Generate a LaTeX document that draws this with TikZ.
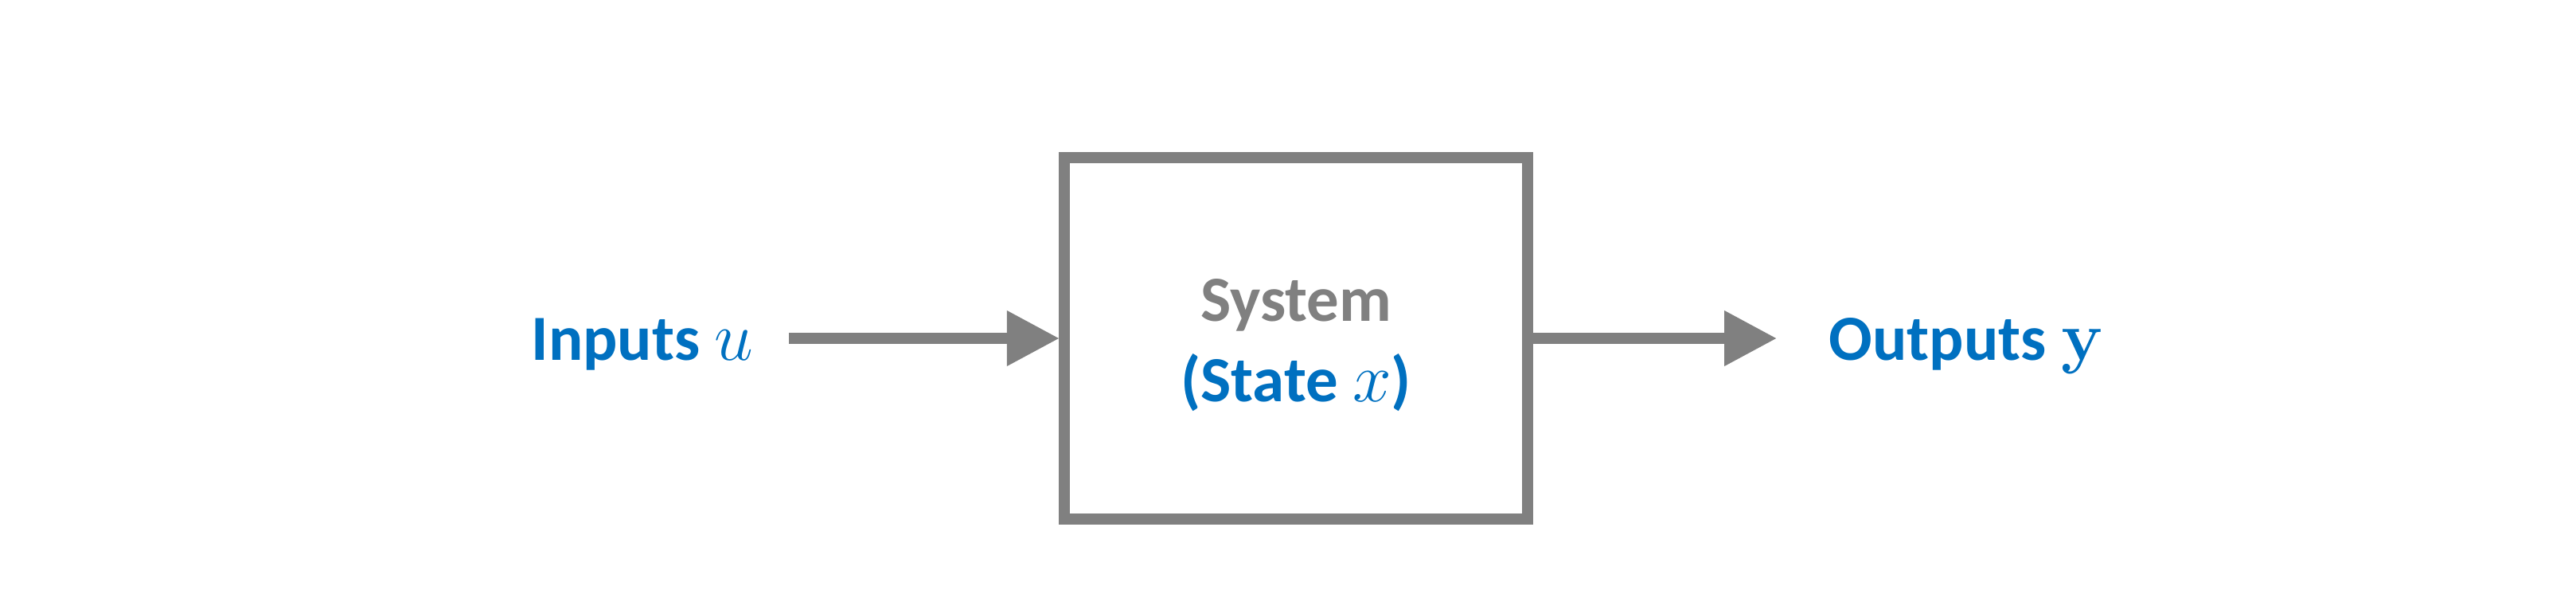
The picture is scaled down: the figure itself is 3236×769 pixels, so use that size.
\documentclass[tikz,border=0pt]{standalone}
\usepackage[no-math]{fontspec}
\setmainfont{Carlito}
\usetikzlibrary{arrows.meta,positioning}
\definecolor{grau}{RGB}{128,128,128}
\definecolor{blau}{RGB}{0,112,192}
\tikzset{
  every picture/.style={line width=3.9pt,
    >={Triangle[length=0.65cm,width=0.7cm,line width=0pt]}},
  every node/.style={font=\fontsize{23pt}{28.5pt}\selectfont\bfseries},
  % Block und Signale
  block/.style={draw=grau, minimum width=5.82cm, minimum height=4.54cm, inner sep=0pt},
  sig/.style={grau, ->},
  % Beschriftung, auf der Grundlinie gesetzt
  lbl/.style={blau, anchor=base},
}
\begin{document}
\begin{tikzpicture}[x=0.01cm, y=-0.01cm]
  \useasboundingbox (0,0) rectangle (3236,769);
  % System mit Zustand
  \node[block] (sys) at (1628,425) {};
  \node[align=center] (state) at ([yshift=-0.085cm]sys.center)
    {{\color{grau}System}\\{\color{blau}(State $x$)}};
  % Ein- und Ausgang
  \coordinate[left=3.39cm of sys.west] (in);
  \coordinate[right=3.05cm of sys.east] (out);
  \draw[sig] (in) -- (sys.west);
  \draw[sig] (sys.east) -- (out);
  \node[lbl] (u) at (807,452) {Inputs $u$};
  \node[lbl] (y) at (2470,452) {Outputs $\mathbf{y}$};
\end{tikzpicture}
\end{document}
